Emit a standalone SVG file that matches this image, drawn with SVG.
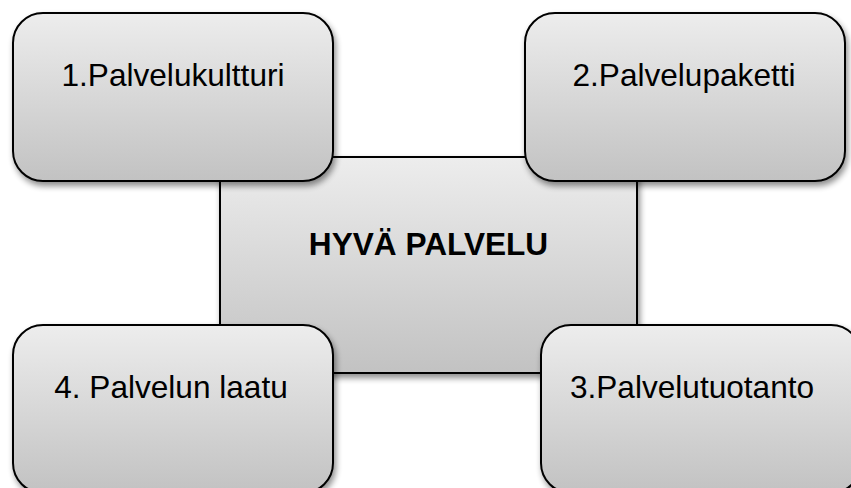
<svg xmlns="http://www.w3.org/2000/svg" width="851" height="488" viewBox="0 0 851 488">
<defs>
<linearGradient id="g" x1="0" y1="0" x2="0" y2="1">
<stop offset="0" stop-color="#ededed"/>
<stop offset="1" stop-color="#c2c2c2"/>
</linearGradient>
<filter id="sh" x="-10%" y="-10%" width="125%" height="130%">
<feGaussianBlur in="SourceAlpha" stdDeviation="3"/>
<feOffset dx="2" dy="4" result="b"/>
<feComponentTransfer><feFuncA type="linear" slope="0.45"/></feComponentTransfer>
<feMerge><feMergeNode/><feMergeNode in="SourceGraphic"/></feMerge>
</filter>
</defs>
<style>
.box{fill:url(#g);stroke:#000;stroke-width:2;filter:url(#sh)}
.t{font-family:"Liberation Sans",Arial,sans-serif;font-size:31.6px;fill:#000;text-anchor:middle}
.b{font-weight:bold}
</style>
<rect width="851" height="488" fill="#fff"/>
<g id="center">
<rect class="box" x="220" y="157" width="417" height="216"/>
<text class="t b" x="428.5" y="255">HYVÄ PALVELU</text>
</g>
<g id="n1">
<rect class="box" x="13" y="13" width="320" height="168" rx="30" ry="30"/>
<text class="t" x="173" y="86">1.Palvelukultturi</text>
</g>
<g id="n2">
<rect class="box" x="525" y="13" width="320" height="168" rx="30" ry="30"/>
<text class="t" x="684" y="86">2.Palvelupaketti</text>
</g>
<g id="n4">
<rect class="box" x="13" y="325" width="320" height="168" rx="30" ry="30"/>
<text class="t" x="171" y="398">4. Palvelun laatu</text>
</g>
<g id="n3">
<rect class="box" x="541" y="325" width="320" height="168" rx="30" ry="30"/>
<text class="t" x="692" y="398">3.Palvelutuotanto</text>
</g>
<g id="connectors"/>
</svg>
